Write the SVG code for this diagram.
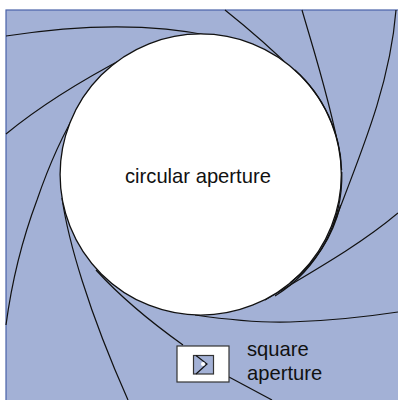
<svg xmlns="http://www.w3.org/2000/svg" width="398" height="400" viewBox="0 0 398 400">
<style>
.b{fill:none;stroke:#111;stroke-width:1.2}
.t{font-family:"Liberation Sans",Arial,sans-serif;font-size:20.2px;fill:#111}
</style>
<rect width="398" height="400" fill="#fff"/>
<g id="frame"><rect x="6" y="10" width="400" height="400" fill="#a3b1d6" stroke="#4a62a8" stroke-width="1.2"/></g>
<g id="blades">
<path class="b" d="M6 36C70 26 145 22 212 36"/>
<path class="b" d="M6 134C40 106 86 78 128 56"/>
<path class="b" d="M6 325C12 280 22 240 37 200C48 168 62 135 80 106"/>
<path class="b" d="M62 198C68 240 88 310 128 400"/>
<path class="b" d="M96 270C125 302 155 325 183 345"/>
<path class="b" d="M229 377L272 400"/>
<path class="b" d="M195 315C230 320 260 323 290 322C330 321 365 317 398 312"/>
<path class="b" d="M265 300C315 270 360 245 398 213"/>
<path class="b" d="M396 10C390 85 362 150 333 226"/>
<path class="b" d="M302 10C312 45 330 100 340 155"/>
<path class="b" d="M225 10C250 30 270 47 295 72"/>
</g>
<g id="opening"><circle cx="200.700" cy="174.500" r="140.600" fill="#fff" stroke="#111" stroke-width="1.300"/></g>
<g id="blade-edges">
<path class="b" d="M295 70A141 141 0 0 1 341.600 170"/>
<path class="b" d="M341.800 172A141.500 141.500 0 0 1 275 296"/>
<path class="b" d="M340.500 205A141.500 141.500 0 0 1 290 283"/>
</g>
<g id="square-aperture">
<rect x="177" y="346" width="52" height="36" fill="#fff" stroke="#333" stroke-width="1.2"/>
<rect x="193.500" y="355.500" width="20" height="18.500" fill="#a3b1d6" stroke="#333" stroke-width="1.200"/>
<path class="b" d="M196 355.500L207 364L196 374"/>
<circle cx="203" cy="364" r="2" fill="#fff" stroke="none"/>
</g>
<g id="labels">
<text class="t" x="125" y="183">circular aperture</text>
<text class="t" x="247" y="356">square</text>
<text class="t" x="247" y="380">aperture</text>
</g>
</svg>
